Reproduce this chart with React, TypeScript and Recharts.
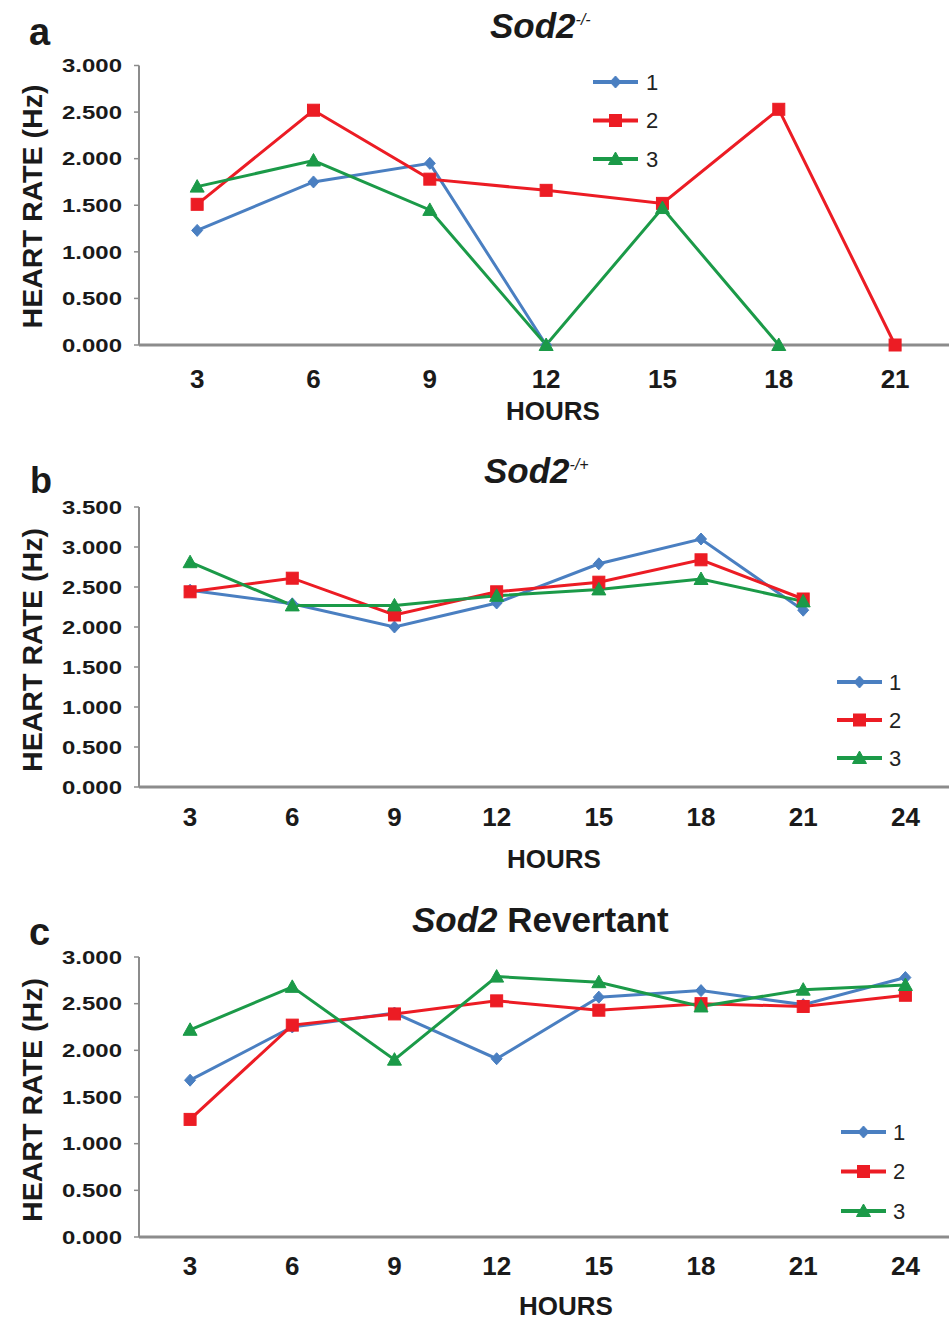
import React from 'react';
import { LineChart, Line, XAxis, YAxis, Legend, Label } from 'recharts';

// ---------- data ----------
const hoursA = [3, 6, 9, 12, 15, 18, 21];
const a1 = [1.23, 1.75, 1.95, 0, null, null, null];
const a2 = [1.51, 2.52, 1.78, 1.66, 1.52, 2.53, 0];
const a3 = [1.70, 1.98, 1.45, 0, 1.47, 0, null];

const hoursB = [3, 6, 9, 12, 15, 18, 21];
const b1 = [2.46, 2.29, 2.0, 2.3, 2.79, 3.1, 2.21];
const b2 = [2.44, 2.61, 2.15, 2.44, 2.56, 2.84, 2.35];
const b3 = [2.81, 2.27, 2.27, 2.39, 2.47, 2.6, 2.32];

const hoursC = [3, 6, 9, 12, 15, 18, 21, 24];
const c1 = [1.68, 2.25, 2.4, 1.91, 2.57, 2.64, 2.49, 2.78];
const c2 = [1.26, 2.27, 2.39, 2.53, 2.43, 2.5, 2.47, 2.59];
const c3 = [2.22, 2.68, 1.9, 2.79, 2.73, 2.47, 2.65, 2.7];

const xTicksA = [3, 6, 9, 12, 15, 18, 21];
const xTicksBC = [3, 6, 9, 12, 15, 18, 21, 24];
const yTicks30 = [0, 0.5, 1, 1.5, 2, 2.5, 3];
const yTicks35 = [0, 0.5, 1, 1.5, 2, 2.5, 3, 3.5];

const seriesNames = ['1', '2', '3'];
const seriesColors = ['#4a7fc1', '#ec1c24', '#1b9a48'];

const FONT = '"Liberation Sans", Arial, Helvetica, sans-serif';

const buildRows = (hours: number[], s1: (number | null)[], s2: (number | null)[], s3: (number | null)[]) =>
  hours.map((h, i) => ({ hour: h, s1: s1[i], s2: s2[i], s3: s3[i] }));

const dataA = buildRows(hoursA, a1, a2, a3);
const dataB = buildRows(hoursB, b1, b2, b3);
const dataC = buildRows(hoursC, c1, c2, c3);

// ---------- markers ----------
const marker = (shape: number, cx: number, cy: number, color: string, key?: string) => {
  if (shape === 0) {
    return (
      <polygon key={key} points={`${cx},${cy - 6} ${cx + 5.5},${cy} ${cx},${cy + 6} ${cx - 5.5},${cy}`} fill={color} stroke={color} strokeWidth={1} />
    );
  }
  if (shape === 1) {
    return <rect key={key} x={cx - 6} y={cy - 6} width={12} height={12} fill={color} stroke={color} strokeWidth={1} />;
  }
  return (
    <polygon key={key} points={`${cx},${cy - 7} ${cx + 7},${cy + 5.5} ${cx - 7},${cy + 5.5}`} fill={color} stroke={color} strokeWidth={1} />
  );
};

const makeDot = (shape: number, color: string) => (props: any) => {
  const { cx, cy, value, index } = props;
  const k = `dot-${shape}-${index}`;
  if (value == null || cx == null || cy == null || Number.isNaN(cy)) return <g key={k} />;
  return marker(shape, cx, cy, color, k);
};

const YTick = (props: any) => {
  const { x, y, payload } = props;
  return (
    <text
      x={x}
      y={y}
      dy="0.355em"
      textAnchor="end"
      fontFamily={FONT}
      fontSize={19}
      fontWeight={700}
      fill="#1a1a1a"
      textLength={60}
      lengthAdjust="spacingAndGlyphs"
    >
      {Number(payload.value).toFixed(3)}
    </text>
  );
};

const makeLegend = (rowGap: number, labelX: number) => () => (
  <svg width={110} height={130} style={{ overflow: 'visible', display: 'block' }}>
    {seriesNames.map((n, i) => {
      const cy = 20 + i * rowGap;
      return (
        <g key={n}>
          <line x1={8} x2={53} y1={cy} y2={cy} stroke={seriesColors[i]} strokeWidth={4} />
          {marker(i, 30.5, cy, seriesColors[i])}
          <text x={labelX} y={cy} dy="0.36em" fontFamily={FONT} fontSize={22} fill="#222">
            {n}
          </text>
        </g>
      );
    })}
  </svg>
);

type PanelProps = {
  top: number;
  height: number;
  data: any[];
  xTicks: number[];
  xDomain: [number, number];
  yTicks: number[];
  yMax: number;
  marginTop: number;
  xAxisHeight: number;
  xTickMargin: number;
  hoursX: number;
  hoursY: number;
  yLabelY: number;
  legendLeft: number;
  legendTop: number;
  legendGap: number;
  legendLabelX: number;
};

const Panel = (p: PanelProps) => (
  <div style={{ position: 'absolute', left: 0, top: p.top, width: 949, height: p.height }}>
    <LineChart width={949} height={p.height} data={p.data} margin={{ top: p.marginTop, right: 0, bottom: 0, left: 0 }}>
      <XAxis
        type="number"
        dataKey="hour"
        domain={p.xDomain}
        allowDataOverflow
        ticks={p.xTicks}
        interval={0}
        tickLine={false}
        tickSize={0}
        tickMargin={p.xTickMargin}
        height={p.xAxisHeight}
        axisLine={{ stroke: '#8c8c8c', strokeWidth: 3 }}
        tick={{ fontSize: 26, fontWeight: 700, fill: '#1a1a1a', fontFamily: FONT }}
      >
        <Label
          content={() => (
            <text x={p.hoursX} y={p.hoursY} textAnchor="middle" fontFamily={FONT} fontSize={26} fontWeight={700} fill="#1a1a1a">
              HOURS
            </text>
          )}
        />
      </XAxis>
      <YAxis
        type="number"
        domain={[0, p.yMax]}
        ticks={p.yTicks}
        interval={0}
        width={139}
        tickSize={5}
        tickMargin={12}
        axisLine={{ stroke: '#8c8c8c', strokeWidth: 2 }}
        tickLine={{ stroke: '#8c8c8c', strokeWidth: 1.5 }}
        tick={<YTick />}
      >
        <Label
          content={() => (
            <text
              x={42}
              y={p.yLabelY}
              transform={`rotate(-90 42 ${p.yLabelY})`}
              textAnchor="middle"
              fontFamily={FONT}
              fontSize={27}
              fontWeight={700}
              fill="#1a1a1a"
              textLength={244}
              lengthAdjust="spacingAndGlyphs"
            >
              HEART RATE (Hz)
            </text>
          )}
        />
      </YAxis>
      <Legend
        layout="horizontal"
        verticalAlign="middle"
        align="center"
        wrapperStyle={{ left: p.legendLeft, top: p.legendTop, width: 110, height: 130 }}
        content={makeLegend(p.legendGap, p.legendLabelX)}
      />
      {['s1', 's2', 's3'].map((k, i) => (
        <Line
          key={k}
          type="linear"
          dataKey={k}
          name={seriesNames[i]}
          stroke={seriesColors[i]}
          strokeWidth={3}
          dot={makeDot(i, seriesColors[i])}
          activeDot={false}
          isAnimationActive={false}
          connectNulls={false}
        />
      ))}
    </LineChart>
  </div>
);

export default function App() {
  return (
    <div style={{ position: 'absolute', left: 0, top: 0, width: 949, height: 1321, overflow: 'hidden', background: '#fff' }}>
      <Panel
        top={0}
        height={440}
        data={dataA}
        xTicks={xTicksA}
        xDomain={[1.5, 22.39]}
        yTicks={yTicks30}
        yMax={3}
        marginTop={65.5}
        xAxisHeight={95}
        xTickMargin={25}
        hoursX={553}
        hoursY={420}
        yLabelY={206.5}
        legendLeft={585}
        legendTop={62}
        legendGap={38.5}
        legendLabelX={61}
      />
      <Panel
        top={440}
        height={440}
        data={dataB}
        xTicks={xTicksBC}
        xDomain={[1.5, 25.28]}
        yTicks={yTicks35}
        yMax={3.5}
        marginTop={67}
        xAxisHeight={93}
        xTickMargin={21}
        hoursX={554}
        hoursY={428}
        yLabelY={210}
        legendLeft={829}
        legendTop={222}
        legendGap={38}
        legendLabelX={60}
      />
      <Panel
        top={880}
        height={441}
        data={dataC}
        xTicks={xTicksBC}
        xDomain={[1.5, 25.28]}
        yTicks={yTicks30}
        yMax={3}
        marginTop={77}
        xAxisHeight={84}
        xTickMargin={20}
        hoursX={566}
        hoursY={435}
        yLabelY={220}
        legendLeft={833}
        legendTop={232}
        legendGap={39.5}
        legendLabelX={60}
      />
      <svg width={949} height={1321} style={{ position: 'absolute', left: 0, top: 0, pointerEvents: 'none' }}>
        <g fontFamily={FONT} fill="#1a1a1a">
          <text x={29} y={45} fontSize={38} fontWeight={700}>a</text>
          <text x={30} y={493} fontSize={36} fontWeight={700}>b</text>
          <text x={29} y={945} fontSize={38} fontWeight={700}>c</text>
          <text x={490} y={38} fontSize={35} fontWeight={700}>
            <tspan fontStyle="italic">Sod2</tspan>
            <tspan fontSize={16} fontWeight={400} fontStyle="italic" dy={-13}>-/-</tspan>
          </text>
          <text x={484} y={483} fontSize={35} fontWeight={700}>
            <tspan fontStyle="italic">Sod2</tspan>
            <tspan fontSize={16} fontWeight={400} fontStyle="italic" dy={-13}>-/+</tspan>
          </text>
          <text x={412} y={932} fontSize={35} fontWeight={700}>
            <tspan fontStyle="italic">Sod2</tspan>
            <tspan> Revertant</tspan>
          </text>
        </g>
      </svg>
    </div>
  );
}
